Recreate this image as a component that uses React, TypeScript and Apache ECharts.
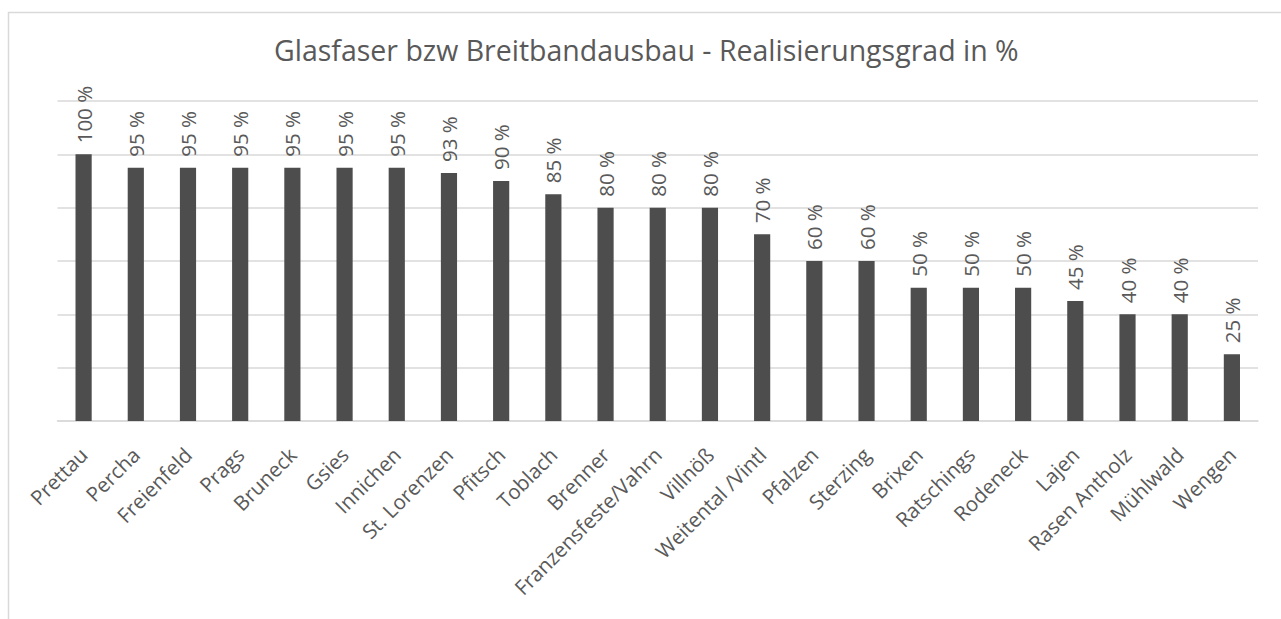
import React, { useEffect, useRef } from "react";
import * as echarts from "echarts";

const categories = [
  "Prettau", "Percha", "Freienfeld", "Prags", "Bruneck", "Gsies", "Innichen",
  "St. Lorenzen", "Pfitsch", "Toblach", "Brenner", "Franzensfeste/Vahrn", "Villnöß",
  "Weitental /Vintl", "Pfalzen", "Sterzing", "Brixen", "Ratschings", "Rodeneck",
  "Lajen", "Rasen Antholz", "Mühlwald", "Wengen",
];
const values = [100, 95, 95, 95, 95, 95, 95, 93, 90, 85, 80, 80, 80, 70, 60, 60, 50, 50, 50, 45, 40, 40, 25];
const titleText = "Glasfaser bzw Breitbandausbau - Realisierungsgrad in %";

export default function App() {
  const ref = useRef<HTMLDivElement>(null);
  useEffect(() => {
    if (!ref.current) return;
    const chart = echarts.init(ref.current, undefined, { renderer: "svg" });
    const font = "'Segoe UI', 'Open Sans', sans-serif";
    chart.setOption({
      animation: false,
      backgroundColor: "#ffffff",
      title: {
        text: titleText,
        left: 269,
        top: 30,
        textStyle: { fontFamily: font, fontSize: 28.5, fontWeight: "normal", color: "#595959" },
      },
      graphic: [
        {
          type: "rect",
          shape: { x: 8.5, y: 12.5, width: 1400, height: 800 },
          style: { fill: "none", stroke: "#d9d9d9", lineWidth: 1.5 },
          silent: true,
        },
      ],
      grid: { left: 57.5, right: 23, top: 101, bottom: 198, containLabel: false },
      xAxis: {
        type: "category",
        data: categories,
        axisLine: { show: true, lineStyle: { color: "#d9d9d9", width: 1.5 } },
        axisTick: { show: false },
        axisLabel: {
          interval: 0,
          rotate: 45,
          margin: 30,
          color: "#595959",
          fontFamily: font,
          fontSize: 20.5,
        },
      },
      yAxis: {
        type: "value",
        min: 0,
        max: 120,
        interval: 20,
        axisLabel: { show: false },
        axisLine: { show: false },
        axisTick: { show: false },
        splitLine: { lineStyle: { color: "#d9d9d9", width: 1.5 } },
      },
      series: [
        {
          type: "bar",
          data: values,
          barWidth: "31%",
          itemStyle: { color: "#4d4d4d" },
          label: {
            show: true,
            position: "top",
            rotate: 90,
            align: "left",
            verticalAlign: "middle",
            distance: 11,
            formatter: (p: any) => `${p.value} %`,
            color: "#595959",
            fontFamily: font,
            fontSize: 20.5,
          },
        },
      ],
    });
    return () => chart.dispose();
  }, []);
  return <div ref={ref} style={{ position: "absolute", left: 0, top: 0, width: 1281, height: 619 }} />;
}
